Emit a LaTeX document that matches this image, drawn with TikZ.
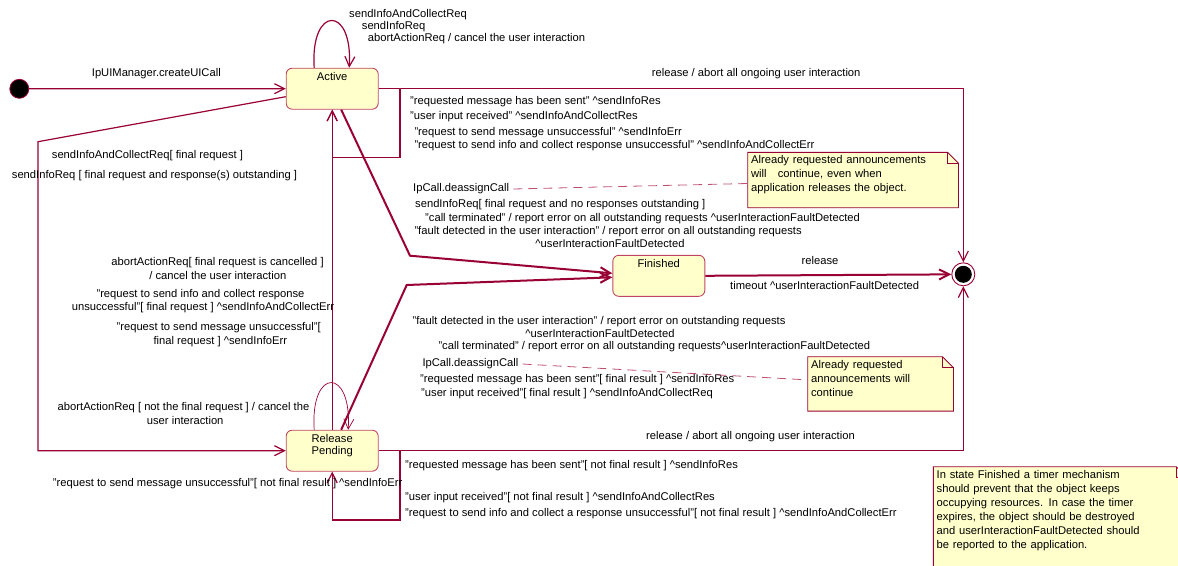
\documentclass[tikz,border=0pt]{standalone}
\usepackage{fontspec}
\setmainfont{Liberation Sans}
\usetikzlibrary{arrows.meta}

\definecolor{linered}{RGB}{153,0,51}
\definecolor{boxred}{RGB}{190,70,100}
\definecolor{paleyellow}{RGB}{255,255,204}
\definecolor{dashpink}{RGB}{190,80,110}

\newcommand{\lblfont}{\fontsize{11.2}{14}\selectfont}
\newcommand{\crt}{\textasciicircum}

\tikzstyle{statebox} = [draw=boxred, fill=paleyellow, line width=0.9pt, rounded corners=6pt, minimum width=92pt, minimum height=41pt, inner sep=0pt]
\tikzstyle{statename} = [anchor=north, align=center, inner sep=0pt, font=\fontsize{11.2}{12}\selectfont]
\tikzstyle{startdot} = [circle, fill=black, draw=linered, line width=0.8pt, minimum size=19pt, inner sep=0pt]
\tikzstyle{enddot} = [circle, draw=linered, fill=white, line width=0.9pt, minimum size=23pt, inner sep=0pt, path picture={\fill[black] (path picture bounding box.center) circle (8.5pt);}]
\tikzstyle{trans} = [draw=linered, line width=1.2pt, -{Straight Barb[length=10pt,width=10pt]}]
\tikzstyle{heavy} = [line width=2pt]
\tikzstyle{fine} = [line width=0.7pt]
\tikzstyle{lbl} = [font=\lblfont, inner sep=0pt, anchor=west, text height=8.2pt, text depth=2.4pt]
\tikzstyle{clbl} = [lbl, anchor=center]
\tikzstyle{note} = [fill=paleyellow, anchor=north west, font=\lblfont, align=left, inner xsep=3.2pt, inner ysep=2pt]
\tikzstyle{noteline} = [draw=linered, line width=0.9pt]
\tikzstyle{anchorline} = [draw=dashpink, line width=0.8pt, dash pattern=on 9pt off 6pt]

% folded corner and border of a note
\newcommand{\dogear}[1]{%
  \fill[white] ([xshift=-11pt]#1.north east) -- ([xshift=1pt,yshift=1pt]#1.north east) -- ([yshift=-11pt]#1.north east) -- cycle;
  \draw[noteline] (#1.north west) -- ([xshift=-11pt]#1.north east) -- ([yshift=-11pt]#1.north east) -- (#1.south east) -- (#1.south west) -- cycle;
  \draw[noteline] ([xshift=-11pt]#1.north east) -- ([xshift=-11pt,yshift=-11pt]#1.north east) -- ([yshift=-11pt]#1.north east);
}

\begin{document}
\begin{tikzpicture}[x=1pt, y=-1pt]
\useasboundingbox (0,0) rectangle (1178,565);

% states
\node[startdot] (start) at (19.3,88.8) {};
\node[statebox] (active) at (332.2,88.7) {};
\node[statename] (activename) at ([yshift=-4pt]active.north) {Active};
\node[statebox] (pending) at (332.2,450.7) {};
\node[statename] (pendingname) at ([yshift=-4pt]pending.north) {Release\\Pending};
\node[statebox] (finished) at (658.8,275.8) {};
\node[statename] (finishedname) at ([yshift=-4pt]finished.north) {Finished};
\node[enddot] (stop) at (963.3,274.3) {};

% notes
\node[note, text width=204pt, text height=9pt, text depth=42pt] (note1) at (747.7,152.3)
  {Already requested announcements\\ will\ \ \ continue, even when\\ application releases the object.};
\dogear{note1}
\node[note, text width=139pt, text height=9.6pt, text depth=40.4pt] (note2) at (807.7,356.7)
  {Already requested\\ announcements will\\ continue};
\dogear{note2}
\node[note, text width=247pt, text height=9.3pt, text depth=110pt] (note3) at (933.3,466.7)
  {In state Finished a timer mechanism\\ should prevent that the object keeps\\ occupying resources. In case the timer\\ expires, the object should be destroyed\\ and userInteractionFaultDetected should\\ be reported to the application.};
\dogear{note3}

% transitions
\draw[trans] (start) -- (active.west);
\draw[trans] ([xshift=-18pt]active.north) .. controls (310,5) and (353,5) .. ([xshift=17pt]active.north);
\draw[trans] (active.east) -| (stop.north);
\draw[trans] (active.east) -| (400,157.3) -| (active.south);
\draw[trans] ([yshift=-8pt]active.west) -- (38,141.7) |- (pending.west);
\draw[trans] (pending.north) -- (active.south);
\draw[trans, heavy] ([xshift=9pt]active.south) -- (410,255.7) -- ([yshift=2.5pt]finished.west);
\draw[trans, heavy] ([xshift=9pt]pending.north) -- (406.7,285) -- ([yshift=-1.5pt]finished.west);
\draw[trans, fine] ([xshift=-18pt]pending.north) .. controls (310,367) and (352,367) .. ([xshift=16pt]pending.north);
\draw[trans] (pending.east) -| (400,520) -| (pending.south);
\draw[trans] (pending.east) -| (stop.south);
\draw[trans, heavy] (finished.east) -- (stop);

% labels
\node[lbl] (create) at (91.7,74) {IpUIManager.createUICall};
\node[lbl] (loopa) at (349,14.3) {sendInfoAndCollectReq};
\node[lbl] (loopb) at (361.7,26.7) {sendInfoReq};
\node[lbl] (loopc) at (367.7,38.3) {abortActionReq / cancel the user interaction};
\node[lbl] (reltop) at (651.7,74) {release / abort all ongoing user interaction};
\node[lbl] (resa) at (410,101.7) {"requested message has been sent" \crt sendInfoRes};
\node[lbl] (resb) at (410,116.7) {"user input received" \crt sendInfoAndCollectRes};
\node[lbl] (erra) at (414.3,132.3) {"request to send message unsuccessful" \crt sendInfoErr};
\node[lbl] (errb) at (414.3,145.7) {"request to send info and collect response unsuccessful" \crt sendInfoAndCollectErr};
\node[lbl] (torpa) at (51.7,155.7) {sendInfoAndCollectReq[ final request ]};
\node[lbl] (torpb) at (11.7,175.7) {sendInfoReq [ final request and response(s) outstanding ]};
\node[lbl] (deassigna) at (413,189) {IpCall.deassignCall};
\node[lbl] (fina) at (415,205) {sendInfoReq[ final request and no responses outstanding ]};
\node[lbl] (finb) at (425,218.3) {"call terminated" / report error on all outstanding requests \crt userInteractionFaultDetected};
\node[lbl] (finc) at (414.3,231.7) {"fault detected in the user interaction" / report error on all outstanding requests};
\node[clbl] (find) at (610,245) {\crt userInteractionFaultDetected};
\node[clbl] (cancela) at (217.5,262.3) {abortActionReq[ final request is cancelled ]};
\node[clbl] (cancelb) at (217.8,276.7) {/ cancel the user interaction};
\node[clbl] (collerra) at (200.5,294.3) {"request to send info and collect response};
\node[clbl] (collerrb) at (203,307.3) {unsuccessful"[ final request ] \crt sendInfoAndCollectErr};
\node[clbl] (msgerra) at (218.7,327.3) {"request to send message unsuccessful"[};
\node[clbl] (msgerrb) at (220.3,341.7) {final request ] \crt sendInfoErr};
\node[clbl] (release) at (820,262) {release};
\node[lbl] (timeout) at (730,287) {timeout \crt userInteractionFaultDetected};
\node[clbl] (faulta) at (599,321.7) {"fault detected in the user interaction" / report error on outstanding requests};
\node[clbl] (faultb) at (600,335) {\crt userInteractionFaultDetected};
\node[lbl] (termb) at (438.3,346.7) {"call terminated" / report error on all outstanding requests\crt userInteractionFaultDetected};
\node[lbl] (deassignb) at (422.3,364) {IpCall.deassignCall};
\node[lbl] (finala) at (420,380) {"requested message has been sent"[ final result ] \crt sendInfoRes};
\node[lbl] (finalb) at (421,394) {"user input received"[ final result ] \crt sendInfoAndCollectReq};
\node[clbl] (aborta) at (183.5,407.3) {abortActionReq [ not the final request ] / cancel the};
\node[clbl] (abortb) at (185.2,421.7) {user interaction};
\node[lbl] (relbot) at (646,437) {release / abort all ongoing user interaction};
\node[lbl] (notres) at (405,466) {"requested message has been sent"[ not final result ] \crt sendInfoRes};
\node[lbl] (notmsg) at (52.7,483.3) {"request to send message unsuccessful"[ not final result ] \crt sendInfoErr};
\node[lbl] (notcoll) at (405,497.3) {"user input received"[ not final result ] \crt sendInfoAndCollectRes};
\node[lbl] (notcollerr) at (405,513.3) {"request to send info and collect a response unsuccessful"[ not final result ] \crt sendInfoAndCollectErr};

% note anchors
\draw[anchorline] ([xshift=4pt]deassigna.east) -- ([yshift=-3.5pt]note1.west);
\draw[anchorline] ([xshift=4pt]deassignb.east) -- ([yshift=4pt]note2.west);
\end{tikzpicture}
\end{document}
